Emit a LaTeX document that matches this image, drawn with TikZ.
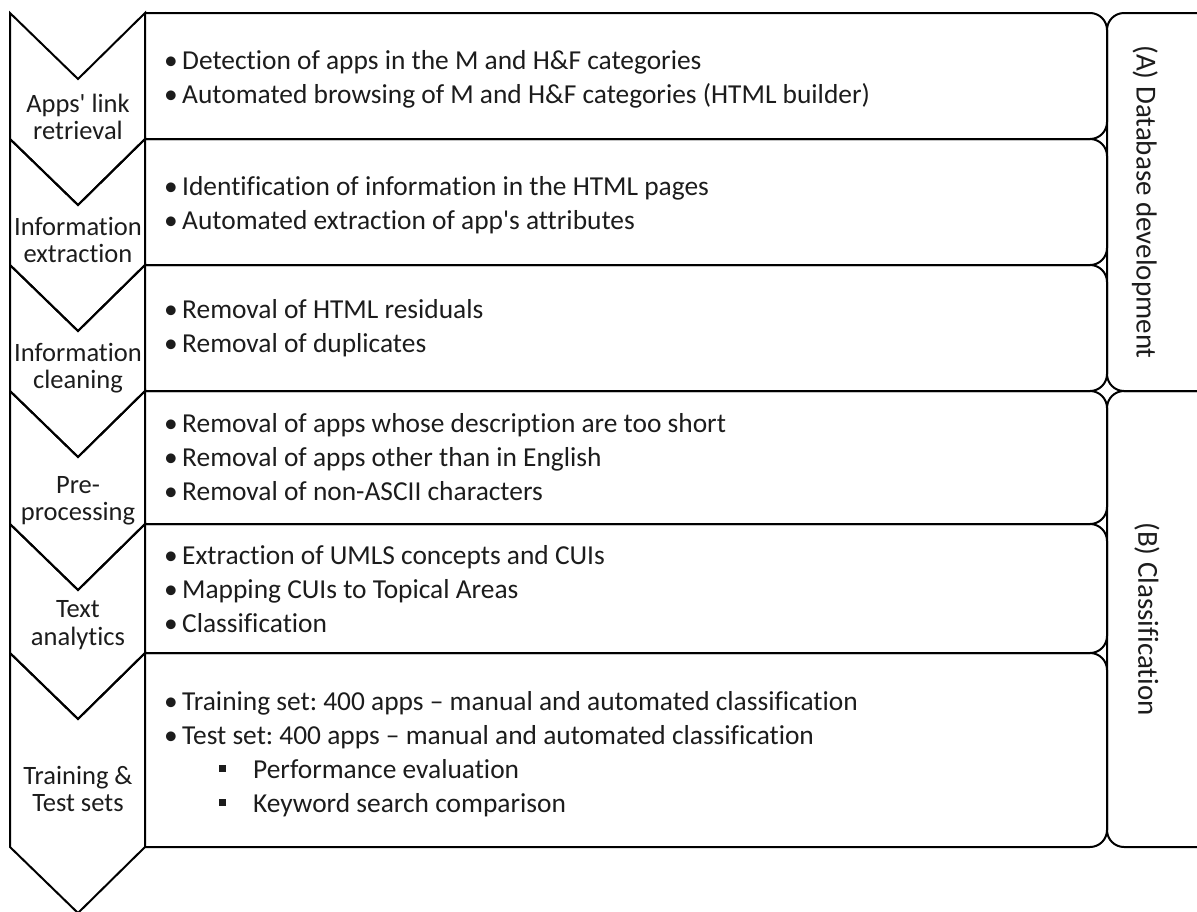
\documentclass[tikz,border=0pt]{standalone}
\usepackage{fontspec}
\setmainfont{Carlito}[Ligatures={TeXOff,CommonOff}]
\definecolor{ink}{HTML}{1C1C1C}
\tikzset{
  frame/.style={draw=black, line width=2pt, line join=miter},
  roundbox/.style={draw=black, line width=2pt, rounded corners=17pt},
  body/.style={anchor=west, align=left, inner sep=0pt, text=ink,
    font=\fontsize{27.4}{34}\selectfont\frenchspacing},
  chevlabel/.style={align=center, inner sep=0pt, text=ink,
    font=\fontsize{26.5}{27.5}\selectfont},
  sidelabel/.style={rotate=-90, inner sep=0pt, text=ink,
    font=\fontsize{29}{32}\selectfont}
}
\newcommand{\bul}{\makebox[18pt][l]{•}}
\newcommand{\sqb}{\hspace{55pt}\makebox[34pt][l]{\rule[6pt]{7pt}{7pt}}}
\begin{document}
\begin{tikzpicture}[x=1pt,y=-1pt]
\useasboundingbox (0,0) rectangle (1197,911);
\clip (0,0) rectangle (1197,911);
% chevrons and content boxes
\foreach \t/\b in {13/139,139/265,265/391,391/524,524/653,653/847}{
  \draw[frame] (10,\t) -- (78,{\t+66}) -- (145,\t) -- (145,\b) -- (78,{\b+66}) -- (10,\b) -- cycle;
  \draw[roundbox] (145,\t) -- (1107,\t) -- (1107,\b) -- (145,\b);
}
% side boxes
\draw[roundbox] (1107,13) rectangle (1215,391);
\draw[roundbox] (1107,391) rectangle (1215,847);
% chevron labels
\node[chevlabel] (c1) at (78,117) {Apps' link\\retrieval};
\node[chevlabel] (c2) at (78,240) {Information\\extraction};
\node[chevlabel] (c3) at (78,368) {Information\\cleaning};
\node[chevlabel] (c4) at (78,501) {Pre-\\processing};
\node[chevlabel] (c5) at (78,625) {Text\\analytics};
\node[chevlabel] (c6) at (78,789) {Training \&\\Test sets};
% body texts
\node[body] (t1) at (164,79) {\bul Detection of apps in the M and H\&F categories\\
  \bul Automated browsing of M and H\&F categories (HTML builder)};
\node[body] (t2) at (164,205) {\bul Identification of information in the HTML pages\\
  \bul Automated extraction of app's attributes};
\node[body] (t3) at (164,328) {\bul Removal of HTML residuals\\
  \bul Removal of duplicates};
\node[body] (t4) at (164,457) {\bul Removal of apps whose description are too short\\
  \bul Removal of apps other than in English\\
  \bul Removal of non-ASCII characters};
\node[body] (t5) at (164,589) {\bul Extraction of UMLS concepts and CUIs\\
  \bul Mapping CUIs to Topical Areas\\
  \bul Classification};
\node[body] (t6) at (164,754) {\bul Training set: 400 apps – manual and automated classification\\
  \bul Test set: 400 apps – manual and automated classification\\
  \sqb Performance evaluation\\
  \sqb Keyword search comparison};
% side labels
\node[sidelabel] (sa) at (1145,202) {(A) Database development};
\node[sidelabel] (sb) at (1147,619) {(B) Classification};
\end{tikzpicture}
\end{document}
